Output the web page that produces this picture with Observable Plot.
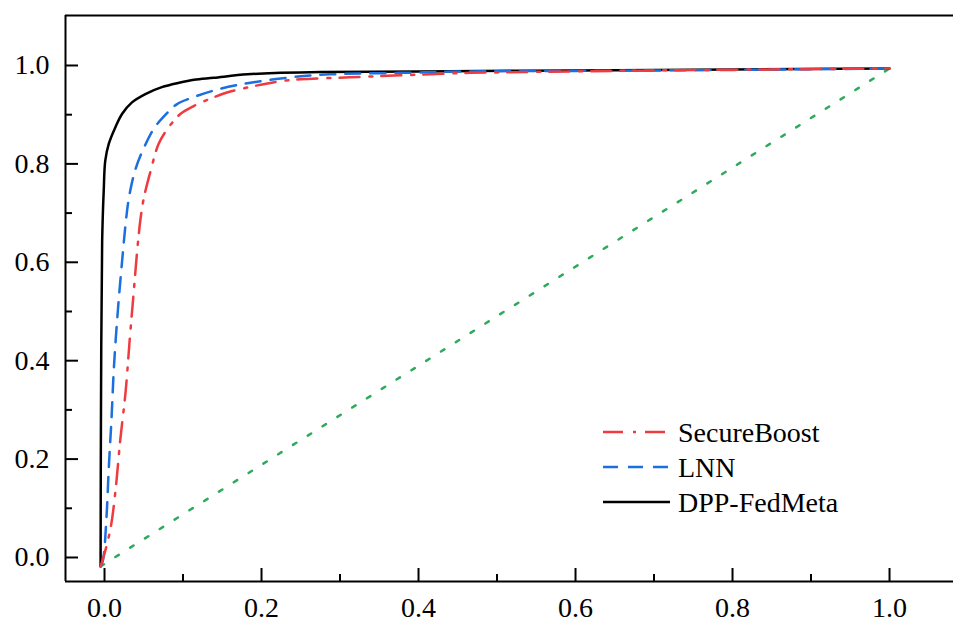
<!DOCTYPE html>
<html>
<head>
<meta charset="utf-8">
<script src="https://cdn.jsdelivr.net/npm/d3@7"></script>
<script src="https://cdn.jsdelivr.net/npm/@observablehq/plot@0.6"></script>
<style>
  html, body { margin: 0; padding: 0; background: #fff; }
  #chart svg { display: block; }
  #chart svg text { font-family: "Liberation Serif", "DejaVu Serif", serif; }
</style>
</head>
<body>
<div id="chart"></div>
<script>
// ---- data ----
const seriesNames = ["SecureBoost", "LNN", "DPP-FedMeta"];
const seriesColors = ["#ef3b3f", "#1c6fdf", "#000000"];
const seriesDash = ["20,10,3,9", "15,10", null];

const fprSecureBoost = [-0.005, 0.001, 0.008, 0.014, 0.020, 0.027, 0.032, 0.037, 0.042, 0.046, 0.050, 0.059, 0.069, 0.082, 0.097, 0.114, 0.137, 0.158, 0.199, 0.224, 0.25, 0.313, 0.377, 0.466, 0.55, 0.7, 0.85, 1.0];
const tprSecureBoost = [-0.018, 0.014, 0.062, 0.136, 0.238, 0.339, 0.441, 0.536, 0.630, 0.690, 0.730, 0.787, 0.841, 0.875, 0.902, 0.918, 0.934, 0.946, 0.961, 0.968, 0.972, 0.976, 0.980, 0.985, 0.987, 0.990, 0.992, 0.994];

const fprLNN = [-0.005, -0.002, 0.0025, 0.0055, 0.009, 0.012, 0.017, 0.0225, 0.027, 0.031, 0.039, 0.050, 0.063, 0.079, 0.092, 0.114, 0.148, 0.19, 0.25, 0.287, 0.377, 0.466, 0.6, 0.8, 1.0];
const tprLNN = [-0.018, -0.006, 0.082, 0.184, 0.285, 0.387, 0.502, 0.604, 0.680, 0.730, 0.787, 0.832, 0.872, 0.902, 0.921, 0.936, 0.953, 0.966, 0.978, 0.982, 0.985, 0.988, 0.989, 0.991, 0.994];

const fprDPP = [-0.005, -0.0045, -0.003, -0.001, 0.001, 0.0055, 0.014, 0.0225, 0.035, 0.052, 0.073, 0.095, 0.114, 0.139, 0.182, 0.224, 0.275, 0.4, 0.6, 0.8, 1.0];
const tprDPP = [-0.018, 0.30, 0.644, 0.746, 0.807, 0.841, 0.875, 0.902, 0.925, 0.942, 0.956, 0.965, 0.971, 0.975, 0.982, 0.985, 0.987, 0.988, 0.990, 0.992, 0.994];

const fprRandom = [-0.005, 1.0];
const tprRandom = [-0.018, 0.994];

const majorTicks = [0, 0.2, 0.4, 0.6, 0.8, 1.0];
const minorTicks = [0.1, 0.3, 0.5, 0.7, 0.9];

// ---- build tables ----
const toRows = (xs, ys) => xs.map((x, i) => ({x, y: ys[i]}));
const curves = [
  toRows(fprSecureBoost, tprSecureBoost),
  toRows(fprLNN, tprLNN),
  toRows(fprDPP, tprDPP)
];
const randomRows = toRows(fprRandom, tprRandom);

const xDomain = [-0.0497, 1.0815];
const yDomain = [-0.0488, 1.1016];
const font = "Liberation Serif, DejaVu Serif, serif";

// legend drawn inside the plot as a function mark
const legendMark = (index, scales, values, dims) => {
  const g = d3.create("svg:g")
    .attr("font-family", font).attr("font-size", 28).attr("text-anchor", "start");
  const x0 = dims.width - 350, y0 = 432, step = 35;
  seriesNames.forEach((name, i) => {
    const y = y0 + i * step;
    g.append("line")
      .attr("x1", x0).attr("x2", x0 + 67).attr("y1", y).attr("y2", y)
      .attr("stroke", seriesColors[i]).attr("stroke-width", 2.5)
      .attr("stroke-dasharray", seriesDash[i]);
    g.append("text")
      .attr("x", x0 + 75).attr("y", y).attr("dy", "0.34em")
      .attr("text-anchor", "start")
      .attr("fill", "#000").text(name);
  });
  return g.node();
};

// draw order: black, blue, red on top
const order = [2, 1, 0];

const chart = Plot.plot({
  width: 953,
  height: 621,
  marginLeft: 65,
  marginRight: 0,
  marginTop: 15,
  marginBottom: 40,
  style: {fontFamily: font, fontSize: "28px", background: "#fff", overflow: "visible"},
  x: {domain: xDomain, label: null},
  y: {domain: yDomain, label: null},
  marks: [
    Plot.line(randomRows, {x: "x", y: "y", stroke: "#2eaa5c", strokeWidth: 2.5, strokeDasharray: "4,13.5"}),
    ...order.map(i => Plot.line(curves[i], {
      x: "x", y: "y", stroke: seriesColors[i], strokeWidth: 2.5,
      strokeDasharray: seriesDash[i] ?? undefined, curve: "catmull-rom"
    })),
    // axis lines
    Plot.ruleX([xDomain[0]], {stroke: "#000", strokeWidth: 2}),
    Plot.ruleY([yDomain[0], yDomain[1]], {stroke: "#000", strokeWidth: 2}),
    // inward ticks
    Plot.axisX(majorTicks, {tickSize: 13, dy: -13, tickFormat: () => "", strokeWidth: 2, label: null}),
    Plot.axisX(minorTicks, {tickSize: 7, dy: -7, tickFormat: () => "", strokeWidth: 2, label: null}),
    Plot.axisY(majorTicks, {tickSize: 13, dx: 13, tickFormat: () => "", strokeWidth: 2, label: null}),
    Plot.axisY(minorTicks, {tickSize: 7, dx: 7, tickFormat: () => "", strokeWidth: 2, label: null}),
    // tick labels
    Plot.axisX(majorTicks, {tickSize: 0, tickPadding: 16, tickFormat: d3.format(".1f"), fontSize: 28, label: null}),
    Plot.axisY(majorTicks, {tickSize: 0, tickPadding: 16, tickFormat: d3.format(".1f"), fontSize: 28, label: null}),
    legendMark
  ]
});
document.getElementById("chart").appendChild(chart);
</script>
</body>
</html>
